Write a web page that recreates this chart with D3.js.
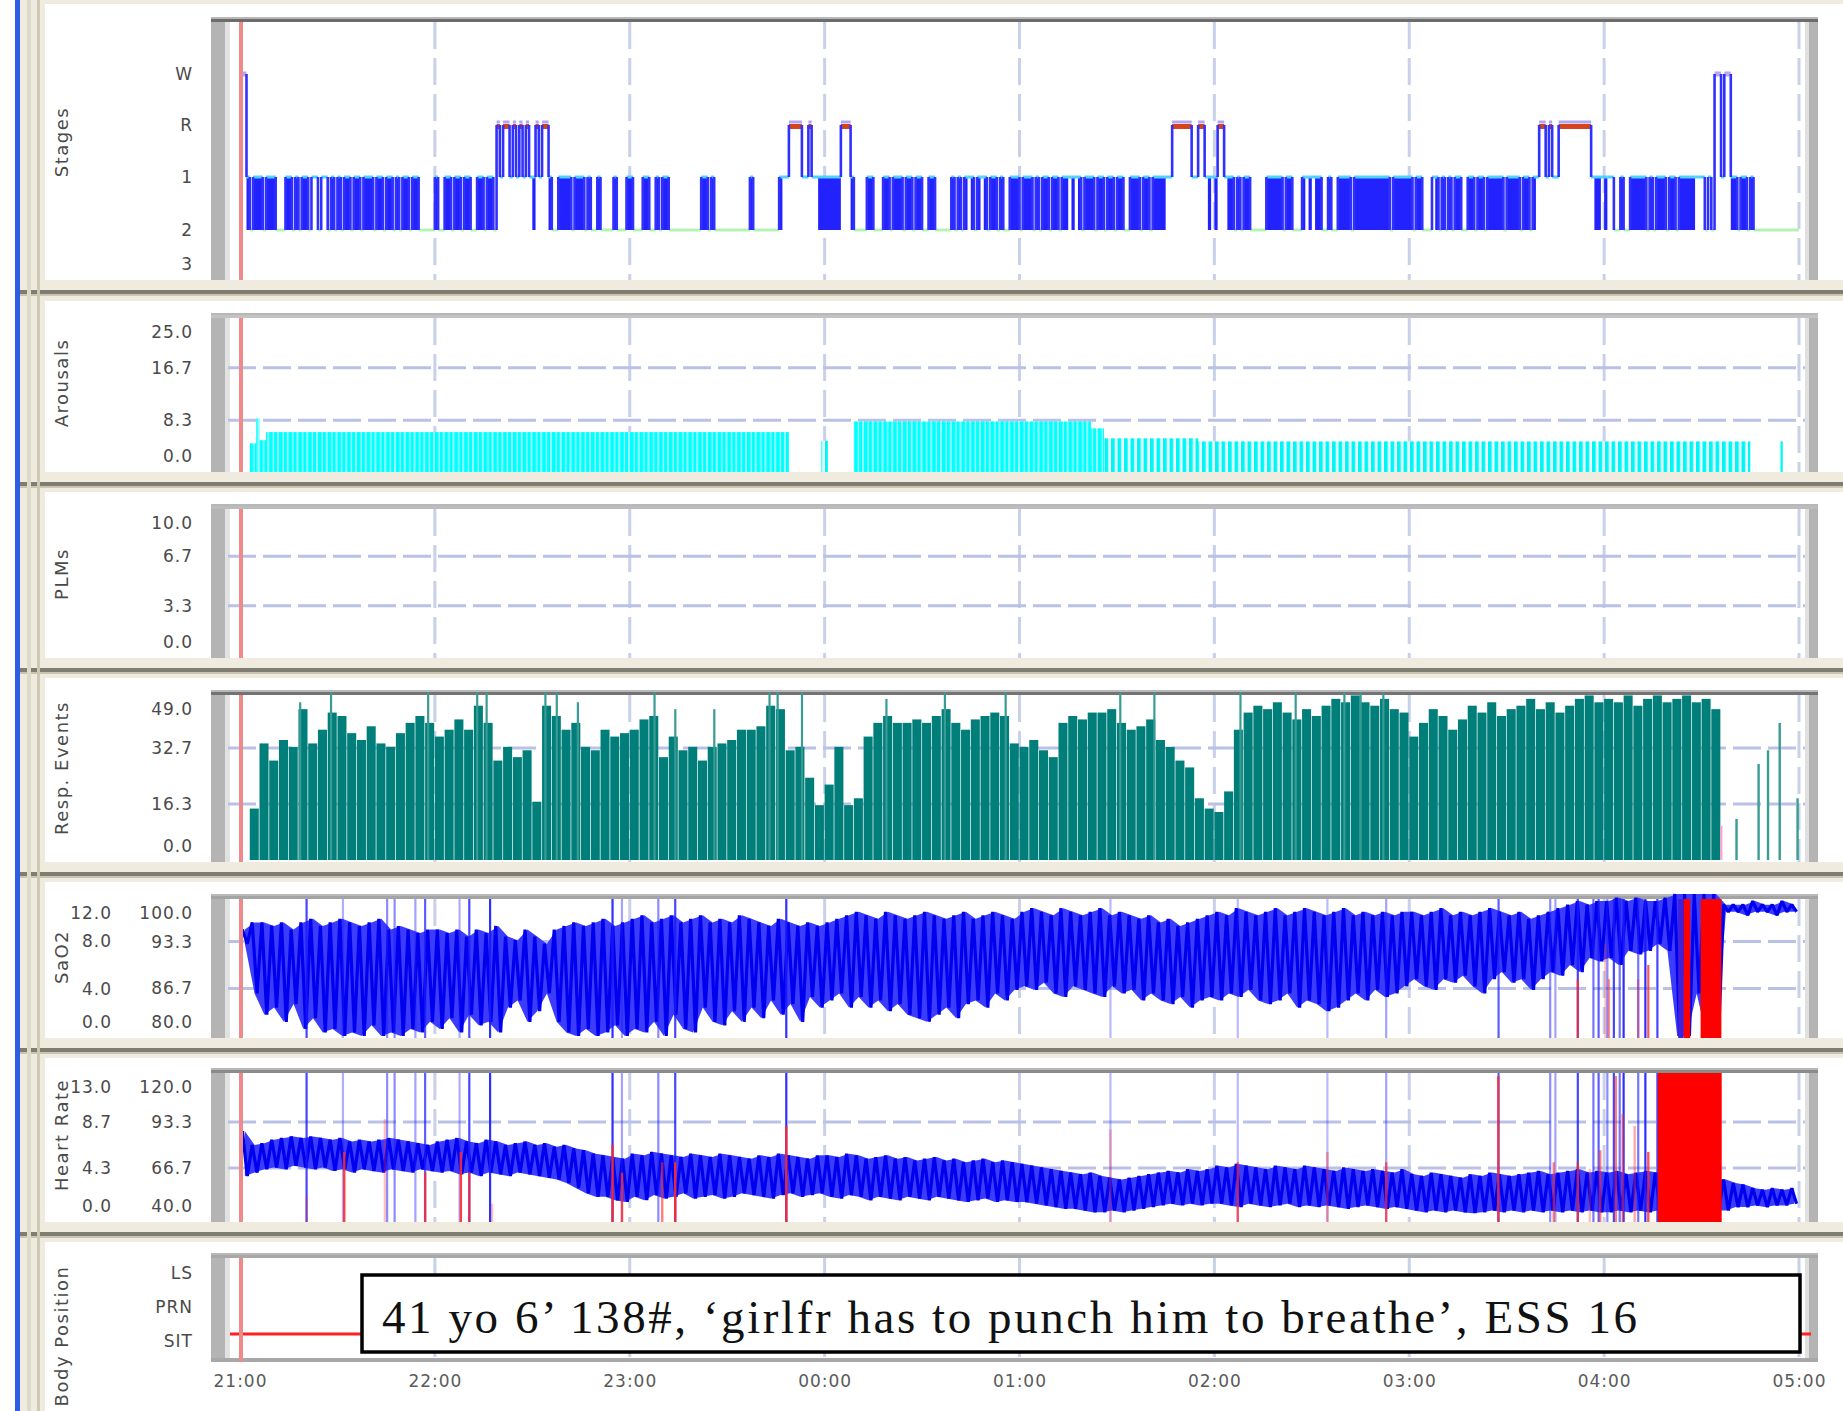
<!DOCTYPE html>
<html>
<head>
<meta charset="utf-8">
<script src="https://cdn.jsdelivr.net/npm/d3@7"></script>
<style>
  body { margin: 0; background: #fff; }
  svg { font-family: "DejaVu Sans", sans-serif; }
</style>
</head>
<body>
<svg id="chart" width="1843" height="1411"></svg>
<script>
// ---------- values (minutes after 21:00) ----------
const timeLabels = ["21:00", "22:00", "23:00", "00:00", "01:00", "02:00", "03:00", "04:00", "05:00"];
const hourTicks = [0, 60, 120, 180, 240, 300, 360, 420, 480];

// hypnogram, one char per minute: W, R, 1, 2, F = fragmented 1/2 (too fast to resolve)
const stageLevels = ["W", "R", "1", "2", "3"];
const hypnogramByHour = [
  "WWF2FFF2FF F222FF2F2F F2112112F2 F2FF2FF2FF F2FF2FF2F2 FF2FF22222",
  "F22FF2FF2F F22FF2FF2R 1RR1R1R1R1 FR1RRF22FF FF2FFF2F22 F2222F222F",
  "F222FF22F2 FF22222222 22FF2F2222 2222222F22 222222F11R RRR11R11FF",
  "FFFFFRRRF2 222FF222FF 2FFF2FF2FF 22FF22222F 2F2F1F2F1F 2FF2F22FFF",
  "2FFF2F2FF2 FF2FF1F1F2 FFF2FF2FF2 FF22FFF2FF 2FFFF11RRR RRR11RR1F1",
  "FRR1FF2F2F F22222FFFF F2FF222F1F 1FF22F22FF FF2FFFFFFF FFFF2FFFFF",
  "F2FF2221F2 F2F2FF22FF 2FF2FFFFF2 FFFF2FF2F1 RR1R11RRRR RRRRRR1FF1",
  "F1122F22FF FFF2F2FFF2 FF2FFFFF11 1212WW1WWF F2FF2F2222 2222222222"
];

// arousals: [start, end, index value, density 1 = packed]
const arousalSegments = [
  [3, 5, 4.6, 1], [5, 6, 8.6, 1], [6, 8, 5.1, 1], [8, 169, 6.4, 1],
  [179, 181, 5.0, 0.6], [189, 262, 8.1, 1], [262, 266, 7.0, 1],
  [266, 295, 5.4, 0.7], [295, 465, 4.9, 0.6], [474, 475, 4.9, 0.6]
];
const arousalTicks = [0, 8.3, 16.7, 25];
const plmTicks = [0, 3.3, 6.7, 10];

// resp. events, 3-minute bins
const respTicks = [0, 16.3, 32.7, 49];
const respBins = [
  0, 15, 34, 29, 35, 33, 44, 34, 38, 43, 42, 37, 35, 39, 34, 33, 37, 40, 42, 40,
  36, 38, 41, 38, 45, 40, 29, 33, 30, 32, 17, 45, 42, 38, 40, 33, 32, 38, 36, 37,
  38, 41, 42, 30, 36, 32, 33, 29, 33, 34, 35, 38, 38, 39, 45, 44, 32, 33, 24, 16,
  22, 33, 16, 18, 36, 40, 42, 40, 40, 41, 40, 42, 44, 40, 38, 41, 42, 43, 42, 34,
  33, 35, 32, 30, 40, 42, 41, 43, 43, 44, 40, 38, 39, 41, 35, 33, 29, 27, 18, 15,
  14, 20, 38, 43, 45, 44, 46, 43, 41, 44, 42, 45, 47, 46, 48, 46, 45, 47, 44, 43,
  36, 40, 44, 42, 38, 41, 45, 43, 46, 42, 44, 45, 47, 44, 46, 43, 45, 47, 48, 46,
  47, 46, 48, 45, 47, 48, 46, 47, 48, 46, 47, 44, 0, 0, 0, 0, 0, 0, 0, 0
];
const respPeaks = [
  [18.5, 46], [28, 49], [57.9, 49], [73, 49], [75.9, 49], [94, 49], [97.5, 49], [104, 46],
  [127.6, 49], [134, 44], [146, 44], [163, 49], [165.5, 49], [173, 49], [199, 47], [217, 49],
  [235.7, 49], [271, 49], [281.5, 49], [308, 49], [325, 49], [340, 49], [345, 49], [352, 49]
];
const respLateBars = [[456, 10], [460.7, 12], [467.5, 28], [470.4, 32], [474, 40], [479.5, 18]];

// SaO2, 3-minute bins (high / low of the trace)
const sao2Ticks = [80, 86.7, 93.3, 100];
const sao2AltTicks = [0, 4, 8, 12];
const sao2High = [
  95, 96, 96, 95.5, 96, 95, 96, 96.5, 95.5, 96, 96.5, 96, 95.5, 96, 96.5, 95, 95.5, 95, 94.5, 95,
  95, 94.5, 95, 94, 95, 94.5, 95.5, 94, 93.5, 95, 94, 93, 95, 95.5, 96, 95.5, 96, 96.5, 95.5, 96,
  96.5, 97, 96, 96.5, 97, 96, 96.5, 97, 96, 96.5, 96, 97, 96.5, 96, 95.5, 96.5, 96, 95.5, 96, 95.5,
  96, 96.5, 97, 97.5, 97, 96.5, 97.5, 97, 96.5, 97, 97.5, 97, 96.5, 97, 97.5, 96.5, 97, 97.5, 97, 96.5,
  97.5, 98, 97.5, 97, 98, 97.5, 97, 97.5, 98, 97, 97.5, 97, 96.5, 97, 96, 96.5, 95.5, 96, 96.5, 97,
  97.5, 97, 98, 97.5, 97, 97.5, 98, 97, 97.5, 98, 97.5, 97, 97.5, 98, 97, 97.5, 97, 97.5, 97, 97.5,
  97.5, 97, 97.5, 98, 97, 97.5, 97, 97.5, 98, 97.5, 97, 97.5, 96.5, 97, 97.5, 98, 98.5, 99, 98.5, 99,
  99, 99.5, 99, 99.5, 99, 99, 99.5, 100, 100, 100, 100, 100, 98.5, 98.5, 98.5, 99, 98.5, 98.5, 99, 98.5
];
const sao2Low = [
  93, 86, 83, 84, 82, 84.5, 81, 82.5, 80.5, 81, 80, 80.5, 80, 81.5, 80, 80.5, 80, 81, 80.5, 82,
  81, 82.5, 80.5, 83, 81.5, 82, 80.5, 84, 85, 82, 83.5, 86, 82, 80.5, 80, 81, 80, 80.5, 81.5, 80,
  81, 80.5, 82, 80, 83, 81, 80.5, 84, 82, 81.5, 83.5, 82, 84, 82.5, 85, 83, 84.5, 82, 85.5, 84,
  85, 86, 84, 85.5, 84, 85, 83.5, 84.5, 83, 82.5, 82, 83, 84, 82.5, 84.5, 85, 84, 86, 85, 86.5,
  87, 86.5, 87.5, 86, 85.5, 87, 86.5, 86, 85.5, 87, 86, 86.5, 85, 86, 85, 84.5, 85.5, 84, 85, 85.5,
  85, 86, 85.5, 86.5, 85, 84.5, 85, 86, 84, 85, 84.5, 83.5, 84, 85, 86, 85, 86.5, 85.5, 86, 87,
  88, 87, 86.5, 88, 87.5, 88.5, 87, 86, 88, 89, 87.5, 88, 86.5, 88, 89, 88.5, 90, 89, 91, 90.5,
  91, 90, 92, 91.5, 92, 93, 92, 80, 80, 86, 80, 80, 97.5, 97.5, 97, 97.5, 97.5, 97, 97.5, 97.5
];

// heart rate, 3-minute bins
const hrTicks = [40, 66.7, 93.3, 120];
const hrAltTicks = [0, 4.3, 8.7, 13];
const hrHigh = [
  88, 80, 81, 83, 84, 85, 84, 85, 84, 83, 84, 82, 83, 82, 83, 84, 83, 82, 81, 80,
  82, 83, 84, 82, 81, 83, 82, 80, 81, 82, 80, 81, 79, 80, 78, 77, 75, 74, 73, 72,
  75, 74, 76, 75, 74, 73, 75, 74, 73, 75, 74, 73, 72, 74, 73, 75, 74, 73, 72, 74,
  74, 73, 75, 74, 72, 73, 74, 72, 73, 71, 72, 73, 71, 72, 70, 71, 72, 70, 71, 70,
  69, 68, 67, 66, 65, 64, 63, 64, 62, 61, 60, 61, 62, 63, 64, 65, 64, 66, 65, 66,
  68, 67, 69, 68, 67, 66, 68, 67, 66, 68, 67, 66, 65, 67, 66, 65, 66, 65, 64, 66,
  63, 62, 64, 63, 62, 61, 63, 62, 64, 63, 62, 63, 64, 65, 63, 64, 65, 66, 64, 65,
  64, 65, 63, 64, 65, 64, 63, 60, 60, 60, 60, 60, 60, 58, 57, 55, 54, 55, 54, 55
];
const hrLow = [
  62, 64, 66, 67, 66, 68, 67, 66, 67, 65, 66, 64, 66, 65, 64, 66, 65, 64, 66, 65,
  64, 65, 63, 64, 62, 64, 63, 62, 64, 63, 62, 61, 60, 58, 55, 52, 50, 50, 48, 47,
  50, 48, 51, 49, 50, 52, 49, 50, 51, 49, 50, 52, 51, 50, 49, 51, 52, 50, 51, 52,
  50, 49, 51, 50, 48, 50, 49, 48, 50, 49, 48, 50, 49, 48, 47, 48, 49, 47, 48, 47,
  47, 46, 45, 44, 43, 43, 42, 41, 41, 42, 41, 42, 43, 44, 45, 46, 45, 46, 45, 46,
  46, 45, 44, 46, 45, 44, 45, 46, 44, 45, 44, 45, 44, 43, 44, 45, 44, 43, 44, 43,
  42, 41, 42, 41, 42, 41, 40.5, 41, 42, 41, 42, 41, 42, 41, 42, 41, 42, 41, 42, 41,
  41, 42, 41, 42, 41, 42, 41, 42, 42, 42, 42, 42, 42, 44, 44, 45, 44, 45, 45, 46
];

// artefact marks: [minute, strength]
const artifactLines = [
  [20.5, 0.8], [31.7, 0.35], [45.3, 0.5], [47.6, 0.5], [54, 0.4], [57, 0.7], [67.6, 0.35], [70.6, 0.8],
  [77, 0.9], [114.7, 0.9], [117.6, 0.4], [128.8, 0.5], [134, 0.8], [168.2, 0.9], [268, 0.3], [307.2, 0.3],
  [334.8, 0.3], [352.9, 0.4], [387.5, 0.7], [403.4, 0.5], [405, 0.4], [411.9, 0.8], [416.7, 0.6],
  [418.3, 0.7], [421, 0.5], [423, 0.8], [424.8, 0.6], [426, 0.9], [430.5, 0.6], [432.7, 0.9], [436.4, 0.8]
];
// red marks: [minute, top value, strength]
const hrRedLines = [
  [20.5, 50, 0.3], [32.1, 76, 0.9], [44.6, 95, 0.3], [57, 64, 0.8], [68, 76, 0.9], [70.6, 64, 0.8],
  [77.6, 46, 0.3], [114.7, 80, 0.9], [117.6, 64, 0.8], [130, 70, 0.6], [134, 70, 0.9], [168.2, 91, 0.9],
  [268, 89, 0.3], [307.2, 70, 0.7], [334.8, 76, 0.4], [352.9, 70, 0.7], [387.4, 120, 0.8], [404.5, 70, 0.6],
  [411.9, 70, 0.7], [415.6, 66, 0.3], [418.8, 77, 0.6], [423.6, 120, 0.6], [425.7, 98, 0.5],
  [429.4, 91, 0.4], [433.6, 76, 0.8]
];
const sao2RedLines = [[411.9, 88, 0.8], [420.4, 93, 0.3], [421.5, 88, 0.5], [430.5, 88, 0.4], [433.6, 90, 0.8]];
const hrRedBlocks = [[436.5, 456.2]];
const sao2RedBlocks = [[444.5, 446.5], [449.7, 456.1]];
const sao2BlueBlocks = [[442.8, 444.5]];

const bodyTicks = ["LS", "PRN", "SIT"];
const bodyPositions = [[0, 480, "SIT"]];
const noteText = "41 yo 6\u2019 138#, \u2018girlfr has to punch him to breathe\u2019, ESS 16";

// ---------- layout ----------
const width = 1843, height = 1411;
const frameL = 211, frameR = 1818;
const panels = [
  {title: "Stages",        white: 4,    top: 19,   bottom: 280,  sep: 290,  titleY: 142,  border: "#6c6c6c"},
  {title: "Arousals",      white: 301,  top: 315,  bottom: 472,  sep: 482,  titleY: 383,  border: "#c2c2c2"},
  {title: "PLMs",          white: 492,  top: 506,  bottom: 658,  sep: 668,  titleY: 574,  border: "#bcbcbc"},
  {title: "Resp. Events",  white: 678,  top: 692,  bottom: 862,  sep: 872,  titleY: 768,  border: "#737373"},
  {title: "SaO2",          white: 882,  top: 896,  bottom: 1038, sep: 1048, titleY: 957,  border: "#a4a4a4"},
  {title: "Heart Rate",    white: 1058, top: 1070, bottom: 1222, sep: 1232, titleY: 1135, border: "#8a8a8a"},
  {title: "Body Position", white: 1242, top: 1255, bottom: 1362, sep: null, titleY: 1336, border: "#a8a8a8"}
];
const [pSt, pAr, pPlm, pResp, pSa, pHr, pBody] = panels;

const svg = d3.select("#chart");
const x = d3.scaleLinear().domain([0, 480]).range([240, 1799]);
const binMin = 3;

const yStage = d3.scaleOrdinal().domain(stageLevels).range([74, 125, 177, 230, 265]);
const yAr = d3.scaleLinear().domain([0, 25]).range([472, 316]);
const yPlm = d3.scaleLinear().domain([0, 10]).range([654, 508]);
const yResp = d3.scaleLinear().domain([0, 49]).range([860, 692]);
const ySa = d3.scaleLinear().domain([80, 100]).range([1036, 894]);
const ySaAlt = d3.scaleLinear().domain([0, 12]).range(ySa.range());
const yHr = d3.scaleLinear().domain([40, 120]).range([1214, 1076]);
const yHrAlt = d3.scaleLinear().domain([0, 13]).range(yHr.range());
const yBody = d3.scaleOrdinal().domain(bodyTicks).range([1266, 1300, 1334]);

// ---------- window chrome ----------
svg.append("rect").attr("width", width).attr("height", height).attr("fill", "#efecdf");
svg.append("rect").attr("x", 0).attr("width", 15).attr("height", height).attr("fill", "#fff");
panels.forEach(p => {
  svg.append("rect").attr("x", 45).attr("y", p.white).attr("width", width - 45)
    .attr("height", (p.sep ? p.bottom : height) - p.white).attr("fill", "#fff");
  if (p.sep) {
    svg.append("rect").attr("x", 15).attr("y", p.sep).attr("width", width).attr("height", 4).attr("fill", "#7f7d71");
    svg.append("rect").attr("x", 15).attr("y", p.sep + 4).attr("width", width).attr("height", 2).attr("fill", "#c9c5b3");
  }
});
svg.append("rect").attr("x", 15).attr("width", 5).attr("height", height).attr("fill", "#2d5de4");
svg.append("rect").attr("x", 27).attr("width", 4).attr("height", height).attr("fill", "#dedac8");
svg.append("rect").attr("x", 37).attr("width", 3).attr("height", height).attr("fill", "#cdc9b5");

// ---------- plot frames ----------
panels.forEach(p => {
  let g = svg.append("g");
  g.append("rect").attr("x", frameL).attr("y", p.top).attr("width", 14).attr("height", p.bottom - p.top).attr("fill", "#b4b4b4");
  g.append("rect").attr("x", frameL + 14).attr("y", p.top).attr("width", 5).attr("height", p.bottom - p.top).attr("fill", "#e2e2e2");
  g.append("rect").attr("x", 1805).attr("y", p.top).attr("width", 4).attr("height", p.bottom - p.top).attr("fill", "#e0e0e0");
  g.append("rect").attr("x", 1809).attr("y", p.top).attr("width", 9).attr("height", p.bottom - p.top).attr("fill", "#b4b4b4");
  g.append("rect").attr("x", frameL).attr("y", p.top - 2).attr("width", frameR - frameL).attr("height", 2).attr("fill", "#b8b8b8");
  g.append("rect").attr("x", frameL).attr("y", p.top).attr("width", frameR - frameL).attr("height", 3).attr("fill", p.border);
  // hour grid
  g.selectAll(".vgrid").data(hourTicks.slice(1)).join("line")
    .attr("x1", d => x(d)).attr("x2", d => x(d))
    .attr("y1", p.top + 3).attr("y2", p.bottom)
    .attr("stroke", "#c9d0ea").attr("stroke-width", 3).attr("stroke-dasharray", "27 9");
});
svg.append("rect").attr("x", frameL).attr("y", pBody.bottom - 4).attr("width", frameR - frameL).attr("height", 4).attr("fill", "#a8a8a8");

function hGrid(p, ticks, y) {
  svg.append("g").selectAll("line").data(ticks.slice(1, -1)).join("line")
    .attr("x1", 228).attr("x2", 1805)
    .attr("y1", d => y(d)).attr("y2", d => y(d))
    .attr("stroke", "#b9c1e6").attr("stroke-width", 3).attr("stroke-dasharray", "28 7");
}
hGrid(pAr, arousalTicks, yAr);
hGrid(pPlm, plmTicks, yPlm);
hGrid(pResp, respTicks, yResp);
hGrid(pSa, sao2Ticks, ySa);
hGrid(pHr, hrTicks, yHr);

// ---------- stages (hypnogram) ----------
const stageCodes = hypnogramByHour.join("").replace(/ /g, "").split("");
const levelOf = c => c === "F" ? "1" : c;
let runs = [];
stageCodes.forEach((c, i) => {
  let last = runs[runs.length - 1];
  if (last && last.c === c) last.end = i + 1;
  else runs.push({c: c, start: i, end: i + 1});
});
const hyp = svg.append("g");
hyp.selectAll(".st2").data(runs.filter(r => r.c === "2")).join("line")
  .attr("x1", d => x(d.start)).attr("x2", d => x(d.end))
  .attr("y1", yStage("2")).attr("y2", yStage("2"))
  .attr("stroke", "#b6f2b6").attr("stroke-width", 3);
hyp.selectAll(".stF").data(runs.filter(r => r.c === "F")).join("rect")
  .attr("x", d => x(d.start)).attr("width", d => x(d.end) - x(d.start))
  .attr("y", yStage("1")).attr("height", yStage("2") - yStage("1"))
  .attr("fill", "#2222ff");
hyp.selectAll(".st1").data(runs.filter(r => r.c === "1" || r.c === "F")).join("line")
  .attr("x1", d => x(d.start)).attr("x2", d => x(d.end))
  .attr("y1", yStage("1")).attr("y2", yStage("1"))
  .attr("stroke", "#4fd2ff").attr("stroke-width", 3);
hyp.selectAll(".stRtop").data(runs.filter(r => r.c === "R")).join("line")
  .attr("x1", d => x(d.start)).attr("x2", d => x(d.end))
  .attr("y1", yStage("R") - 3).attr("y2", yStage("R") - 3)
  .attr("stroke", "#b2a4ee").attr("stroke-width", 3);
hyp.selectAll(".stR").data(runs.filter(r => r.c === "R")).join("line")
  .attr("x1", d => x(d.start)).attr("x2", d => x(d.end))
  .attr("y1", yStage("R") + 1.5).attr("y2", yStage("R") + 1.5)
  .attr("stroke", "#d5431c").attr("stroke-width", 5);
hyp.selectAll(".stW").data(runs.filter(r => r.c === "W")).join("line")
  .attr("x1", d => x(d.start)).attr("x2", d => x(d.end))
  .attr("y1", yStage("W")).attr("y2", yStage("W"))
  .attr("stroke", "#b9a9ec").attr("stroke-width", 5);
hyp.selectAll(".trans").data(runs.slice(1).map((r, i) => ({x: r.start, from: levelOf(runs[i].c), to: levelOf(r.c)})))
  .join("line")
  .attr("x1", d => x(d.x)).attr("x2", d => x(d.x))
  .attr("y1", d => yStage(d.from)).attr("y2", d => yStage(d.to))
  .attr("stroke", "#3030ff").attr("stroke-width", 2.6);

// ---------- arousals ----------
const defs = svg.append("defs");
let pd = defs.append("pattern").attr("id", "arDense").attr("patternUnits", "userSpaceOnUse")
  .attr("x", 240).attr("width", 9.75).attr("height", 20);
pd.append("rect").attr("width", 9.75).attr("height", 20).attr("fill", "#00ffff");
pd.append("rect").attr("x", 3.6).attr("width", 1.2).attr("height", 20).attr("fill", "#b4ffff");
pd.append("rect").attr("x", 8.2).attr("width", 1.1).attr("height", 20).attr("fill", "#ffffff");
let ps = defs.append("pattern").attr("id", "arSparse").attr("patternUnits", "userSpaceOnUse")
  .attr("x", 240).attr("width", 6.5).attr("height", 20);
ps.append("rect").attr("width", 6.5).attr("height", 20).attr("fill", "#c8ffff");
ps.append("rect").attr("width", 3.6).attr("height", 20).attr("fill", "#00f6f6");
ps.append("rect").attr("x", 5.2).attr("width", 1.3).attr("height", 20).attr("fill", "#ffffff");
svg.append("g").selectAll("rect").data(arousalSegments).join("rect")
  .attr("x", d => x(d[0])).attr("width", d => x(d[1]) - x(d[0]))
  .attr("y", d => yAr(d[2])).attr("height", d => yAr(0) - yAr(d[2]))
  .attr("fill", d => d[3] > 0.9 ? "url(#arDense)" : "url(#arSparse)");

// ---------- resp. events ----------
const resp = svg.append("g");
resp.selectAll(".bin").data(respBins).join("rect")
  .attr("x", (d, i) => x(i * binMin))
  .attr("width", x(binMin) - x(0) - 0.7)
  .attr("y", d => yResp(d)).attr("height", d => yResp(0) - yResp(d))
  .attr("fill", "#007f7a");
resp.selectAll(".peak").data(respPeaks).join("rect")
  .attr("x", d => x(d[0]) - 1).attr("width", 2.2)
  .attr("y", d => yResp(d[1])).attr("height", d => yResp(0) - yResp(d[1]))
  .attr("fill", "#3a9a94");
resp.selectAll(".late").data(respLateBars).join("rect")
  .attr("x", d => x(d[0]) - 1).attr("width", 2.4)
  .attr("y", d => yResp(d[1])).attr("height", d => yResp(0) - yResp(d[1]))
  .attr("fill", (d, i) => i === 0 ? "#f5a8d0" : "#3a9c95");

// ---------- SaO2 / heart rate traces ----------
function trace(p, hi, lo, y) {
  let g = svg.append("g");
  let bins = hi.map((d, i) => ({t: i * binMin + binMin / 2, hi: d, lo: lo[i]}));
  // envelope of the fast oscillation in each bin, then the trace itself
  g.append("path").datum(bins)
    .attr("d", d3.area().x(d => x(d.t)).y0(d => y(d.lo)).y1(d => y(d.hi)))
    .attr("fill", "#3c3cff");
  let pts = [];
  hi.forEach((d, i) => {
    pts.push([i * binMin + 0.75, d]);
    pts.push([i * binMin + 2.25, lo[i]]);
  });
  g.append("path").datum(pts)
    .attr("d", d3.line().x(d => x(d[0])).y(d => y(d[1])))
    .attr("fill", "none").attr("stroke", "#0000ee").attr("stroke-width", 3.2)
    .attr("stroke-linejoin", "bevel");
  g.selectAll("line").data(artifactLines).join("line")
    .attr("x1", d => x(d[0])).attr("x2", d => x(d[0]))
    .attr("y1", p.top + 3).attr("y2", p.bottom)
    .attr("stroke", "#1818ff").attr("stroke-opacity", d => d[1]).attr("stroke-width", 2.2);
  return g;
}
const saG = trace(pSa, sao2High, sao2Low, ySa);
saG.selectAll(".red").data(sao2RedLines).join("line")
  .attr("x1", d => x(d[0])).attr("x2", d => x(d[0]))
  .attr("y1", d => ySa(d[1])).attr("y2", pSa.bottom)
  .attr("stroke", "#ff2a2a").attr("stroke-opacity", d => d[2]).attr("stroke-width", 2.2);
saG.selectAll(".bblk").data(sao2BlueBlocks).join("rect")
  .attr("x", d => x(d[0])).attr("width", d => x(d[1]) - x(d[0]))
  .attr("y", pSa.top + 3).attr("height", pSa.bottom - pSa.top - 3).attr("fill", "#4020d8");
saG.selectAll(".rblk").data(sao2RedBlocks).join("rect")
  .attr("x", d => x(d[0])).attr("width", d => x(d[1]) - x(d[0]))
  .attr("y", pSa.top + 3).attr("height", pSa.bottom - pSa.top - 3).attr("fill", "#ff0000");

const hrG = trace(pHr, hrHigh, hrLow, yHr);
hrG.selectAll(".red").data(hrRedLines).join("line")
  .attr("x1", d => x(d[0])).attr("x2", d => x(d[0]))
  .attr("y1", d => yHr(d[1])).attr("y2", pHr.bottom)
  .attr("stroke", "#ff2a2a").attr("stroke-opacity", d => d[2]).attr("stroke-width", 2.4);
hrG.selectAll(".rblk").data(hrRedBlocks).join("rect")
  .attr("x", d => x(d[0])).attr("width", d => x(d[1]) - x(d[0]))
  .attr("y", pHr.top + 3).attr("height", pHr.bottom - pHr.top - 3).attr("fill", "#ff0000");

// ---------- body position ----------
svg.append("g").selectAll("line").data(bodyPositions).join("line")
  .attr("x1", d => x(d[0]) - 10).attr("x2", d => x(d[1]) + 12)
  .attr("y1", d => yBody(d[2])).attr("y2", d => yBody(d[2]))
  .attr("stroke", "#ff2020").attr("stroke-width", 3);

// 21:00 marker
panels.forEach(p => {
  svg.append("line").attr("x1", x(0) + 1).attr("x2", x(0) + 1).attr("y1", p.top + 3).attr("y2", p.bottom)
    .attr("stroke", "#ef8a8a").attr("stroke-width", 4);
});

// ---------- labels ----------
const fmt = d3.format(".1f");
function valueLabels(p, ticks, y, xr, f) {
  svg.append("g").selectAll("text").data(ticks).join("text")
    .attr("x", xr)
    .attr("y", d => Math.max(p.top + 17, Math.min(p.bottom - 16, y(d))))
    .attr("text-anchor", "end").attr("dominant-baseline", "central")
    .attr("font-size", 17).attr("letter-spacing", 1).attr("fill", "#4a4a4a")
    .text(f);
}
valueLabels(pSt, stageLevels, yStage, 193, d => d);
valueLabels(pAr, arousalTicks, yAr, 193, fmt);
valueLabels(pPlm, plmTicks, yPlm, 193, fmt);
valueLabels(pResp, respTicks, yResp, 193, fmt);
valueLabels(pSa, sao2Ticks, ySa, 193, fmt);
valueLabels(pSa, sao2AltTicks, ySaAlt, 112, fmt);
valueLabels(pHr, hrTicks, yHr, 193, fmt);
valueLabels(pHr, hrAltTicks, yHrAlt, 112, fmt);
svg.append("g").selectAll("text").data(bodyTicks).join("text")
  .attr("x", 193).attr("y", d => yBody(d) + 7)
  .attr("text-anchor", "end").attr("dominant-baseline", "central")
  .attr("font-size", 17).attr("letter-spacing", 1).attr("fill", "#4a4a4a")
  .text(d => d);

svg.append("g").selectAll("text").data(panels).join("text")
  .attr("transform", d => `translate(61,${d.titleY}) rotate(-90)`)
  .attr("text-anchor", "middle").attr("dominant-baseline", "central")
  .attr("font-size", 18).attr("letter-spacing", 1.5).attr("fill", "#4a4a4a")
  .text(d => d.title);

const xAxis = d3.axisBottom(x).tickValues(hourTicks)
  .tickFormat((d, i) => timeLabels[i]).tickSize(0).tickPadding(3);
svg.append("g").attr("transform", "translate(0,1372)").call(xAxis)
  .call(g => g.select(".domain").remove())
  .call(g => g.selectAll("text").attr("font-size", 17).attr("letter-spacing", 1)
    .attr("fill", "#5a5a5a").attr("font-family", "DejaVu Sans, sans-serif"));

// ---------- note box ----------
const note = svg.append("g");
note.append("rect").attr("x", 362).attr("y", 1275).attr("width", 1438).attr("height", 77)
  .attr("fill", "#fff").attr("stroke", "#000").attr("stroke-width", 3.5);
note.append("text").attr("x", 382).attr("y", 1333)
  .attr("font-family", "'Liberation Serif', 'DejaVu Serif', serif").attr("font-size", 47)
  .attr("fill", "#111").attr("textLength", 1255).attr("lengthAdjust", "spacing")
  .text(noteText);
</script>
</body>
</html>
